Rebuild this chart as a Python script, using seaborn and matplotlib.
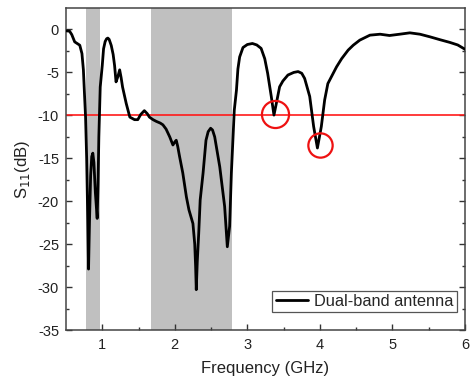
import numpy as np
import pandas as pd
import matplotlib
matplotlib.use("Agg")
import matplotlib.pyplot as plt
import seaborn as sns

freq = [0.50, 0.55, 0.58, 0.62, 0.69, 0.72, 0.74, 0.755, 0.77, 0.785, 0.80, 0.811,
        0.825, 0.84, 0.855, 0.87, 0.885, 0.905, 0.93, 0.942, 0.953, 0.972, 1.0,
        1.018, 1.04, 1.06, 1.077, 1.095, 1.124, 1.15, 1.17, 1.19, 1.215, 1.24, 1.26,
        1.28, 1.33, 1.38, 1.445, 1.49, 1.53, 1.58, 1.62, 1.65, 1.70, 1.745, 1.80,
        1.836, 1.88, 1.93, 1.974, 2.00, 2.02, 2.04, 2.066, 2.11, 2.16, 2.195, 2.25,
        2.275, 2.287, 2.296, 2.31, 2.33, 2.35, 2.39, 2.43, 2.46, 2.494, 2.52, 2.55,
        2.62, 2.687, 2.724, 2.756, 2.78, 2.82, 2.85, 2.87, 2.894, 2.94, 3.00, 3.07,
        3.13, 3.19, 3.24, 3.28, 3.33, 3.367, 3.40, 3.445, 3.49, 3.56, 3.64, 3.70,
        3.75, 3.79, 3.86, 3.914, 3.966, 4.02, 4.066, 4.11, 4.23, 4.30, 4.39, 4.46,
        4.55, 4.69, 4.83, 4.96, 5.10, 5.24, 5.38, 5.52, 5.66, 5.79, 5.90, 6.0]
s11 = [-0.15, -0.2, -0.6, -1.44, -1.83, -2.8, -4.7, -7.5, -10.2, -15, -22, -27.9,
       -22, -17, -14.8, -14.4, -15.5, -19, -22.0, -18, -12.5, -6.7, -4.2,
       -2.25, -1.4, -1.08, -1.0, -1.15, -1.86, -2.9, -4.2, -6.1, -5.5, -4.7, -5.6,
       -6.7, -8.6, -10.2, -10.5, -10.5, -9.9, -9.45, -9.8, -10.2, -10.5, -10.7, -10.9,
       -11.1, -11.6, -12.5, -13.45, -13.1, -12.9, -13.6, -14.8, -16.7, -19.5, -21, -22.6,
       -25, -27.6, -30.3, -27, -23.7, -19.85, -16.7, -12.9, -11.9, -11.5, -11.7, -12.5,
       -16, -20.6, -25.3, -22.9, -16.7, -9.4, -7.06, -4.6, -3.2, -2.1, -1.75, -1.63,
       -1.8, -2.2, -3.4, -5.1, -7.8, -9.97, -8.6, -6.67, -6.0, -5.3, -5.0, -4.9,
       -5.1, -5.7, -7.8, -11.3, -13.8, -11.3, -8.2, -6.3, -4.35, -3.4, -2.4, -1.83,
       -1.24, -0.66, -0.55, -0.7, -0.55, -0.39, -0.55, -0.86, -1.2, -1.5, -1.8, -2.3]

bands = [(0.77, 0.97), (1.67, 2.79)]
threshold = -10
circle_x = [3.38, 4.0]
circle_y = [-9.8, -13.4]
circle_size = [19.5, 17.5]
xticks = [1, 2, 3, 4, 5, 6]
yticks = [0, -5, -10, -15, -20, -25, -30, -35]

sns.set_theme(style="ticks")
plt.rcParams['font.family'] = ['Liberation Sans', 'DejaVu Sans']
plt.rcParams['axes.unicode_minus'] = False

fig = plt.figure(figsize=(4.73, 3.82), dpi=100)
ax = fig.add_axes([0.1395, 0.136, 0.8435, 0.843])

for lo, hi in bands:
    ax.axvspan(lo, hi, color="#c0c0c0", lw=0, zorder=0)

ax.axhline(threshold, color="#ff1a1a", lw=1.2, zorder=1)

df = pd.DataFrame({"Frequency": freq, "S11": s11, "series": "Dual-band antenna"})
sns.lineplot(data=df, x="Frequency", y="S11", hue="series", palette=["black"],
             lw=2.0, ax=ax, zorder=3, sort=False, solid_joinstyle="round")

for cx, cy, ms in zip(circle_x, circle_y, circle_size):
    ax.plot([cx], [cy], marker="o", ms=ms, mfc="none", mec="#ee1111", mew=1.6,
            ls="none", zorder=4)

ax.set_xlim(0.5, 6)
ax.set_ylim(-35, 2.5)
ax.set_xticks(xticks)
ax.set_yticks(yticks)
ax.set_xticks(np.arange(1.5, 6, 1.0), minor=True)
ax.set_yticks(np.arange(-32.5, 2.5, 5.0), minor=True)
ax.tick_params(which="both", direction="in", right=True, top=False,
               colors="#333333", labelcolor="#222222", labelsize=10.5)
ax.tick_params(axis="x", which="major", pad=6)
ax.tick_params(axis="y", which="major", pad=5)
ax.tick_params(which="major", length=4, width=1)
ax.tick_params(which="minor", length=2.5, width=1)
for sp in ax.spines.values():
    sp.set_visible(True)
    sp.set_color("#444444")
    sp.set_linewidth(1.1)

ax.set_xlabel("Frequency (GHz)", fontsize=12, color="#222222", labelpad=6)
ax.set_ylabel("S$_{11}$(dB)", fontsize=12, color="#222222", labelpad=4)

leg = ax.legend(loc="lower right", bbox_to_anchor=(0.992, 0.04), fontsize=11.8,
                frameon=True, fancybox=False, edgecolor="#555555", framealpha=1,
                handlelength=2.0, borderpad=0.2, handletextpad=0.35,
                borderaxespad=0.3)
leg.get_frame().set_linewidth(0.9)

fig.savefig("out.png", dpi=100)
